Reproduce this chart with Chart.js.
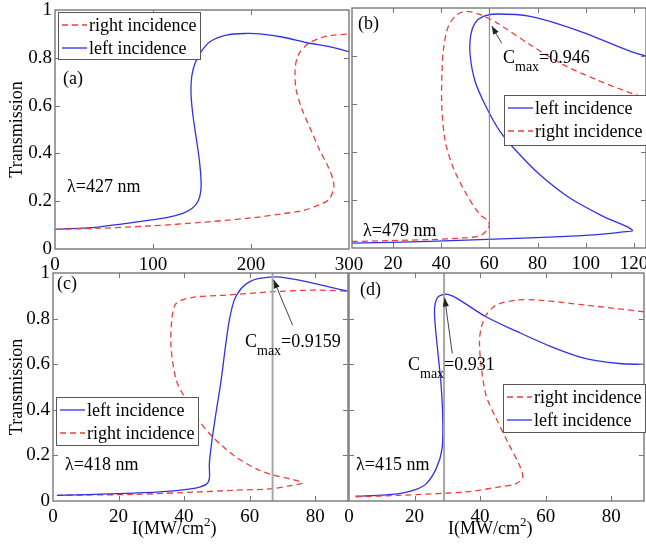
<!DOCTYPE html>
<html>
<head>
<meta charset="utf-8">
<script src="https://cdn.jsdelivr.net/npm/chart.js@4.4.1/dist/chart.umd.min.js"></script>
<style>
  body { margin: 0; background: #fff; }
  #wrap { position: relative; width: 646px; height: 544px; overflow: hidden; }
  #wrap canvas { position: absolute; left: 0; top: 0; }
</style>
</head>
<body>
<div id="wrap">
  <canvas id="cA" width="646" height="544"></canvas>
  <canvas id="cB" width="646" height="544"></canvas>
  <canvas id="cC" width="646" height="544"></canvas>
  <canvas id="cD" width="646" height="544"></canvas>
</div>
<script>
// --- datos ---
// (a) lambda = 427 nm
const aLeftX  = [0, 46, 97, 115, 131, 140, 146, 148.7, 149, 147.3, 143.9, 140.5, 138.8, 139.5, 142.9, 148, 158, 175, 196, 209, 233, 257, 281, 300];
const aLeftY  = [0.082, 0.093, 0.121, 0.132, 0.15, 0.17, 0.2, 0.24, 0.289, 0.372, 0.47, 0.568, 0.651, 0.721, 0.777, 0.819, 0.867, 0.895, 0.902, 0.9, 0.886, 0.863, 0.846, 0.826];
const aRightX = [0, 46, 100, 148, 200, 233, 252, 270, 280, 284.5, 283, 278, 270, 262, 252, 246, 245, 248, 257, 270, 281, 300];
const aRightY = [0.082, 0.087, 0.097, 0.111, 0.13, 0.148, 0.16, 0.185, 0.21, 0.258, 0.3, 0.35, 0.414, 0.49, 0.585, 0.668, 0.75, 0.81, 0.855, 0.882, 0.893, 0.9];

// (b) lambda = 479 nm
const bLeftX  = [3, 35.4, 76.9, 104.5, 115.5, 119.4, 116.9, 107.2, 93.4, 81, 71.3, 64.4, 58.9, 54.1, 52, 52.3, 54.1, 57.5, 63.1, 76.9, 97.6, 118.3, 125];
const bLeftY  = [0.02, 0.028, 0.042, 0.056, 0.067, 0.072, 0.09, 0.132, 0.208, 0.305, 0.403, 0.486, 0.583, 0.694, 0.806, 0.889, 0.938, 0.965, 0.975, 0.965, 0.903, 0.82, 0.799];
const bRightX = [3, 35.4, 49.2, 56.1, 59.2, 60, 59.3, 56.1, 50.6, 45.1, 41.7, 40.3, 40.3, 41, 43, 46.5, 50.6, 56.1, 63.1, 76.9, 90.6, 104.5, 119.6, 125];
const bRightY = [0.027, 0.035, 0.042, 0.051, 0.076, 0.097, 0.115, 0.139, 0.222, 0.333, 0.444, 0.583, 0.722, 0.833, 0.924, 0.972, 0.986, 0.972, 0.938, 0.847, 0.764, 0.701, 0.642, 0.625];

// (c) lambda = 418 nm
const cLeftX  = [1.2, 19.3, 32.5, 42.6, 46.7, 47.7, 47.7, 48.5, 49.7, 51.3, 52.6, 53.8, 55.3, 57.4, 59.9, 62.9, 68, 75.1, 84.2, 90];
const cLeftY  = [0.025, 0.032, 0.04, 0.054, 0.073, 0.098, 0.164, 0.266, 0.384, 0.53, 0.676, 0.793, 0.881, 0.932, 0.961, 0.976, 0.983, 0.969, 0.939, 0.92];
const cRightX = [1.2, 24.4, 44.7, 54.8, 67, 73.1, 76.1, 73.1, 67, 62.9, 55.8, 48.7, 43.7, 40.1, 37.6, 36, 36.3, 37.6, 42.6, 52.8, 66, 80, 90];
const cRightY = [0.025, 0.029, 0.04, 0.047, 0.054, 0.069, 0.079, 0.094, 0.115, 0.135, 0.193, 0.281, 0.369, 0.457, 0.53, 0.676, 0.8, 0.867, 0.893, 0.903, 0.917, 0.925, 0.92];

// (d) lambda = 415 nm
const dLeftX  = [2, 11.4, 15.4, 20.5, 23.6, 26.6, 28.4, 28.6, 28.1, 27.1, 26.3, 26.1, 26.8, 28.1, 30.1, 32.7, 41.8, 51, 62, 72.3, 82.4, 90];
const dLeftY  = [0.021, 0.027, 0.032, 0.051, 0.076, 0.142, 0.23, 0.362, 0.508, 0.654, 0.771, 0.845, 0.888, 0.903, 0.906, 0.891, 0.808, 0.745, 0.675, 0.624, 0.603, 0.599];
const dRightX = [2, 15.4, 35.7, 45.9, 51, 53, 52, 48.9, 44.9, 41.8, 40.3, 39.8, 40.3, 41.8, 44.9, 51, 58, 72.3, 90];
const dRightY = [0.018, 0.025, 0.04, 0.062, 0.076, 0.105, 0.157, 0.245, 0.362, 0.464, 0.596, 0.698, 0.757, 0.815, 0.859, 0.881, 0.881, 0.859, 0.83];

// lineas verticales (posicion de C_max) y textos
const bVline = 60, cVline = 67, dVline = 29;
const cmaxTexts = ['=0.946', '=0.9159', '=0.931'];
const lambdas = ['λ=427 nm', 'λ=479 nm', 'λ=418 nm', 'λ=415 nm'];

const SERIF = '"Liberation Serif", "DejaVu Serif", "Times New Roman", serif';
const AZUL = '#3131e6';
const ROJO = '#ef3d3d';
const font18 = { family: SERIF, size: 18 };
const fontTick = { family: SERIF, size: 19 };

const pts = (xs, ys) => xs.map((x, i) => ({ x: x, y: ys[i] }));

const serieIzq = (xs, ys) => ({
    label: 'left incidence', data: pts(xs, ys), borderColor: AZUL, borderWidth: 1.3,
    showLine: true, pointRadius: 0, tension: 0.3, fill: false
});
const serieDer = (xs, ys) => ({
    label: 'right incidence', data: pts(xs, ys), borderColor: ROJO, borderWidth: 1.3,
    borderDash: [6, 4], showLine: true, pointRadius: 0, tension: 0.3, fill: false
});
const vertical = (x, color, w) => ({
    data: [{ x: x, y: 0 }, { x: x, y: 1 }], borderColor: color, borderWidth: w,
    showLine: true, pointRadius: 0, tension: 0
});

function drawParts(ctx, x, y, parts) {
    parts.forEach(([txt, size, dy]) => {
        ctx.font = size + 'px ' + SERIF;
        ctx.fillText(txt, x, y + dy);
        x += ctx.measureText(txt).width;
    });
}

// frame, ticks hacia dentro, leyenda, textos y flecha
function notas(p) {
    return {
        id: 'notas' + p.id,
        afterDatasetsDraw(chart) {
            const { ctx, chartArea: a, scales: { x, y } } = chart;
            ctx.save();
            ctx.strokeStyle = '#777';
            ctx.lineWidth = 1.4;
            ctx.strokeRect(a.left, a.top, a.right - a.left, a.bottom - a.top);
            ctx.lineWidth = 1;
            ctx.beginPath();
            x.ticks.forEach(t => {
                const px = Math.round(x.getPixelForValue(t.value)) + 0.5;
                if (px <= a.left + 1 || px >= a.right - 1) return;
                ctx.moveTo(px, a.bottom); ctx.lineTo(px, a.bottom - 5);
                ctx.moveTo(px, a.top); ctx.lineTo(px, a.top + 5);
            });
            y.ticks.forEach(t => {
                const py = Math.round(y.getPixelForValue(t.value)) + 0.5;
                if (py <= a.top + 1 || py >= a.bottom - 1) return;
                ctx.moveTo(a.left, py); ctx.lineTo(a.left + 5, py);
                ctx.moveTo(a.right, py); ctx.lineTo(a.right - 5, py);
            });
            ctx.stroke();

            // flecha hacia C_max
            if (p.arrow) {
                const [x0, y0, x1, y1] = p.arrow;
                const ax = x.getPixelForValue(x0), ay = y.getPixelForValue(y0);
                const bx = x.getPixelForValue(x1), by = y.getPixelForValue(y1);
                const ang = Math.atan2(by - ay, bx - ax);
                ctx.strokeStyle = '#444';
                ctx.fillStyle = '#222';
                ctx.beginPath(); ctx.moveTo(ax, ay); ctx.lineTo(bx, by); ctx.stroke();
                ctx.beginPath();
                ctx.moveTo(bx, by);
                ctx.lineTo(bx - 9 * Math.cos(ang - 0.35), by - 9 * Math.sin(ang - 0.35));
                ctx.lineTo(bx - 9 * Math.cos(ang + 0.35), by - 9 * Math.sin(ang + 0.35));
                ctx.closePath(); ctx.fill();
            }

            // leyenda
            const L = p.legend;
            ctx.fillStyle = '#fff';
            ctx.fillRect(L.x, L.y, L.w, L.h);
            ctx.strokeStyle = '#555';
            ctx.strokeRect(L.x + 0.5, L.y + 0.5, L.w, L.h);
            chart.data.datasets.filter(d => d.label).forEach((d, i) => {
                const ly = L.y + 13 + i * 23;
                ctx.strokeStyle = d.borderColor;
                ctx.lineWidth = 1.3;
                ctx.setLineDash(d.borderDash || []);
                ctx.beginPath(); ctx.moveTo(L.x + 4, ly); ctx.lineTo(L.x + 29, ly); ctx.stroke();
                ctx.setLineDash([]);
                ctx.fillStyle = '#000';
                ctx.font = '18px ' + SERIF;
                ctx.textBaseline = 'middle';
                ctx.fillText(d.label, L.x + 31, ly + 1);
            });

            ctx.textBaseline = 'alphabetic';
            ctx.fillStyle = '#000';
            p.texts.forEach(t => drawParts(ctx, t.x, t.y, t.parts));
            ctx.restore();
        }
    };
}

function panel(p) {
    const W = 646, H = 544;
    new Chart(document.getElementById(p.canvas), {
        type: 'scatter',
        data: { datasets: p.sets },
        options: {
            responsive: false,
            animation: false,
            events: [],
            layout: {
                padding: {
                    left: p.area.left - p.yW,
                    top: p.area.top,
                    right: W - p.area.right,
                    bottom: H - p.area.bottom - p.xH
                }
            },
            plugins: { legend: { display: false }, tooltip: { enabled: false } },
            scales: {
                x: {
                    type: 'linear', min: p.xMin, max: p.xMax,
                    grid: { display: false, drawTicks: false }, border: { display: false },
                    ticks: { stepSize: p.xStep, includeBounds: false, padding: 5, font: fontTick, color: '#000', maxRotation: 0, autoSkip: false },
                    afterFit: s => { s.height = p.xH; s.paddingLeft = 0; s.paddingRight = 0; }
                },
                y: {
                    type: 'linear', min: 0, max: 1,
                    grid: { display: false, drawTicks: false }, border: { display: false },
                    ticks: {
                        stepSize: 0.2, display: p.showY, padding: 3, font: fontTick, color: '#000',
                        callback: v => String(Number(v.toFixed(1)))
                    },
                    title: { display: p.showY, text: 'Transmission', font: font18, color: '#000', padding: { top: 6, bottom: 0 } },
                    afterFit: s => { s.width = p.yW; s.paddingTop = 0; s.paddingBottom = 0; }
                }
            }
        },
        plugins: [notas(p)]
    });
}

const cmax = (x, y, val) => ({ x: x, y: y, parts: [['C', 18, 0], ['max', 14, 8], [val, 18, 0]] });
const xTitulo = (x) => ({ x: x, y: 534, parts: [['I(MW/cm', 18, 0], ['2', 13, -8], [')', 18, 0]] });

panel({
    id: 'a', canvas: 'cA', area: { left: 55, top: 10, right: 349, bottom: 249 }, yW: 55, xH: 23,
    xMin: 0, xMax: 300, xStep: 100, showY: true,
    sets: [serieDer(aRightX, aRightY), serieIzq(aLeftX, aLeftY)],
    legend: { x: 58, y: 12, w: 142, h: 47 },
    texts: [{ x: 63, y: 84, parts: [['(a)', 18, 0]] }, { x: 67, y: 192, parts: [[lambdas[0], 18, 0]] }]
});
panel({
    id: 'b', canvas: 'cB', area: { left: 352, top: 8, right: 646, bottom: 248 }, yW: 0, xH: 24,
    xMin: 3, xMax: 125, xStep: 20, showY: false,
    sets: [vertical(bVline, '#808080', 1), serieIzq(bLeftX, bLeftY), serieDer(bRightX, bRightY)],
    legend: { x: 504, y: 95, w: 142, h: 50 },
    arrow: [65.1, 0.853, 61, 0.925],
    texts: [{ x: 358, y: 29, parts: [['(b)', 18, 0]] }, { x: 363, y: 236, parts: [[lambdas[1], 18, 0]] },
            cmax(503, 63, cmaxTexts[0])]
});
panel({
    id: 'c', canvas: 'cC', area: { left: 53, top: 273, right: 348, bottom: 501 }, yW: 53, xH: 43,
    xMin: 0, xMax: 90, xStep: 20, showY: true,
    sets: [vertical(cVline, '#a8a8a8', 2), serieIzq(cLeftX, cLeftY), serieDer(cRightX, cRightY)],
    legend: { x: 56, y: 397, w: 142, h: 48 },
    arrow: [73.1, 0.771, 67.3, 0.97],
    texts: [{ x: 57, y: 289, parts: [['(c)', 18, 0]] }, { x: 65, y: 470, parts: [[lambdas[2], 18, 0]] },
            cmax(245, 347, cmaxTexts[1]), xTitulo(132)]
});
panel({
    id: 'd', canvas: 'cD', area: { left: 349, top: 273, right: 644, bottom: 501 }, yW: 0, xH: 43,
    xMin: 0, xMax: 90, xStep: 20, showY: false,
    sets: [vertical(dVline, '#a8a8a8', 2), serieDer(dRightX, dRightY), serieIzq(dLeftX, dLeftY)],
    legend: { x: 503, y: 384, w: 142, h: 48 },
    arrow: [31.5, 0.647, 29.2, 0.89],
    texts: [{ x: 360, y: 295, parts: [['(d)', 18, 0]] }, { x: 356, y: 470, parts: [[lambdas[3], 18, 0]] },
            cmax(408, 370, cmaxTexts[2]), xTitulo(448)]
});
</script>
</body>
</html>
